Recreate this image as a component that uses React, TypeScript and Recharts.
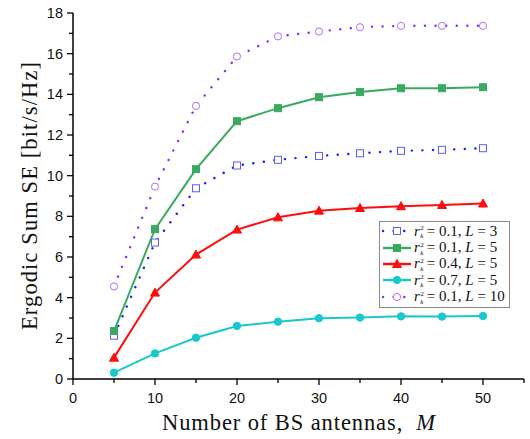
import React from "react";
import { LineChart, Line, XAxis, YAxis, Legend } from "recharts";

const antennas = [5, 10, 15, 20, 25, 30, 35, 40, 45, 50];
const seL3r01 = [2.13, 6.71, 9.38, 10.5, 10.78, 10.97, 11.1, 11.22, 11.27, 11.35];
const seL5r01 = [2.36, 7.37, 10.32, 12.68, 13.32, 13.86, 14.11, 14.3, 14.3, 14.35];
const seL5r04 = [1.05, 4.25, 6.12, 7.35, 7.95, 8.28, 8.41, 8.5, 8.56, 8.63];
const seL5r07 = [0.31, 1.26, 2.03, 2.61, 2.82, 2.99, 3.02, 3.08, 3.07, 3.1];
const seL10r01 = [4.55, 9.46, 13.43, 15.86, 16.85, 17.09, 17.3, 17.37, 17.37, 17.37];

const xTicks = [0, 5, 10, 15, 20, 25, 30, 35, 40, 45, 50, 55];
const yTicks = [0, 1, 2, 3, 4, 5, 6, 7, 8, 9, 10, 11, 12, 13, 14, 15, 16, 17, 18];

const data = antennas.map((m, i) => ({
  m,
  a: seL3r01[i],
  b: seL5r01[i],
  c: seL5r04[i],
  d: seL5r07[i],
  e: seL10r01[i],
}));

type SeriesDef = {
  key: string;
  r: string;
  L: string;
  color: string;
  markerColor: string;
  marker: "sqOpen" | "sq" | "tri" | "circ" | "circOpen";
  dotted: boolean;
};

const series: SeriesDef[] = [
  { key: "a", r: "0.1", L: "3", color: "#1a1aff", markerColor: "#5c5cff", marker: "sqOpen", dotted: true },
  { key: "b", r: "0.1", L: "5", color: "#3aaa60", markerColor: "#3aaa60", marker: "sq", dotted: false },
  { key: "c", r: "0.4", L: "5", color: "#ff0d0d", markerColor: "#ff0d0d", marker: "tri", dotted: false },
  { key: "d", r: "0.7", L: "5", color: "#19c8cc", markerColor: "#19c8cc", marker: "circ", dotted: false },
  { key: "e", r: "0.1", L: "10", color: "#8a2bff", markerColor: "#b070ff", marker: "circOpen", dotted: true },
];

const TICK_FONT = "'Liberation Sans', Arial, sans-serif";
const SERIF = "'Liberation Serif', 'DejaVu Serif', serif";

function Marker({ cx, cy, kind, color }: { cx: number; cy: number; kind: string; color: string }) {
  if (cx == null || cy == null || isNaN(cx) || isNaN(cy)) return null;
  switch (kind) {
    case "sqOpen":
      return <rect x={cx - 3.5} y={cy - 3.5} width={7} height={7} fill="#fff" stroke={color} strokeWidth={1} />;
    case "sq":
      return <rect x={cx - 3.5} y={cy - 3.5} width={7} height={7} fill={color} stroke={color} strokeWidth={1} />;
    case "tri":
      return (
        <polygon
          points={`${cx},${cy - 4.5} ${cx - 4.5},${cy + 3.5} ${cx + 4.5},${cy + 3.5}`}
          fill={color}
          stroke={color}
          strokeWidth={1}
        />
      );
    case "circ":
      return <circle cx={cx} cy={cy} r={3.7} fill={color} stroke={color} strokeWidth={1} />;
    case "circOpen":
      return <circle cx={cx} cy={cy} r={3.6} fill="#fff" stroke={color} strokeWidth={1} />;
  }
  return null;
}

const BottomTick = (props: any) => {
  const { x, y, payload } = props;
  const v = payload.value;
  const major = v % 10 === 0;
  return (
    <g>
      <line x1={x} x2={x} y1={y} y2={y + (major ? 6 : 4)} stroke="#000" strokeWidth={1.3} />
      {major && (
        <text x={x} y={y + 24} textAnchor="middle" fontFamily={TICK_FONT} fontSize={14.5} fill="#111">
          {v}
        </text>
      )}
    </g>
  );
};

const TopTick = (props: any) => {
  const { x, y, payload } = props;
  const v = payload.value;
  const major = v % 10 === 0;
  return <line x1={x} x2={x} y1={y} y2={y + (major ? 6 : 4)} stroke="#000" strokeWidth={1.3} />;
};

const LeftTick = (props: any) => {
  const { x, y, payload } = props;
  const v = payload.value;
  const major = v % 2 === 0;
  return (
    <g>
      <line x1={x} x2={x - (major ? 6 : 4)} y1={y} y2={y} stroke="#000" strokeWidth={1.3} />
      {major && (
        <text x={x - 10} y={y + 5} textAnchor="end" fontFamily={TICK_FONT} fontSize={14.5} fill="#111">
          {v}
        </text>
      )}
    </g>
  );
};

const RightTick = (props: any) => {
  const { x, y, payload } = props;
  const v = payload.value;
  const major = v % 2 === 0;
  return <line x1={x} x2={x + (major ? 5 : 3)} y1={y} y2={y} stroke="#000" strokeWidth={1.3} />;
};

const XTitle = (props: any) => {
  const vb = props.viewBox;
  return (
    <text
      x={vb.x + vb.width / 2}
      y={vb.y + 51}
      textAnchor="middle"
      fontFamily={SERIF}
      fontSize={22.5}
      fill="#111"
      textLength={273}
      lengthAdjust="spacing"
    >
      Number of BS antennas,{"\u00A0\u00A0"}
      <tspan fontStyle="italic">M</tspan>
    </text>
  );
};

const YTitle = (props: any) => {
  const vb = props.viewBox;
  const cx = 37;
  const cy = vb.y + vb.height / 2;
  return (
    <text
      x={cx}
      y={cy}
      transform={`rotate(-90, ${cx}, ${cy})`}
      textAnchor="middle"
      fontFamily={SERIF}
      fontSize={22.5}
      fill="#111"
      textLength={268}
      lengthAdjust="spacing"
    >
      Ergodic Sum SE [bit/s/Hz]
    </text>
  );
};

const LegendContent = () => (
  <div
    style={{
      border: "1px solid #8a8a8a",
      background: "#fff",
      padding: "1px 4px 2px 2px",
      fontFamily: SERIF,
      fontSize: 15,
      color: "#111",
    }}
  >
    {series.map((s) => (
      <div key={s.key} style={{ display: "flex", alignItems: "center", height: 16.4, whiteSpace: "nowrap" }}>
        <svg width={30} height={14} style={{ marginRight: 2 }}>
          <line
            x1={1}
            x2={29}
            y1={7}
            y2={7}
            stroke={s.color}
            strokeWidth={2.4}
            strokeLinecap={s.dotted ? "round" : "butt"}
            strokeDasharray={s.dotted ? "0.1 10.5" : undefined}
          />
          <Marker cx={15} cy={7} kind={s.marker} color={s.markerColor} />
        </svg>
        <span style={{ fontStyle: "italic" }}>r</span>
        <span
          style={{
            display: "inline-flex",
            flexDirection: "column",
            fontSize: 7,
            lineHeight: "8px",
            marginRight: 3,
            marginLeft: 0.5,
            position: "relative",
            top: 1,
          }}
        >
          <span>2</span>
          <span style={{ fontStyle: "italic" }}>k</span>
        </span>
        <span>
          = {s.r}, <span style={{ fontStyle: "italic" }}>L</span> = {s.L}
        </span>
      </div>
    ))}
  </div>
);

export default function App() {
  return (
    <div style={{ position: "absolute", left: 0, top: 0, width: 530, height: 439, background: "#fff" }}>
      <LineChart width={530} height={439} data={data} margin={{ top: 13, right: 6, bottom: 0, left: 33 }}>
        <XAxis
          dataKey="m"
          type="number"
          domain={[0, 55]}
          ticks={xTicks}
          interval={0}
          height={60}
          tickSize={0}
          tickMargin={0}
          tickLine={false}
          tick={<BottomTick />}
          axisLine={{ stroke: "#000", strokeWidth: 1.5 }}
          label={<XTitle />}
        />
        <XAxis
          xAxisId="top"
          orientation="top"
          dataKey="m"
          type="number"
          domain={[0, 55]}
          ticks={xTicks}
          interval={0}
          height={0}
          tickSize={0}
          tickMargin={0}
          tickLine={false}
          tick={<TopTick />}
          axisLine={{ stroke: "#000", strokeWidth: 1.5 }}
        />
        <YAxis
          type="number"
          domain={[0, 18]}
          ticks={yTicks}
          interval={0}
          width={40}
          tickSize={0}
          tickMargin={0}
          tickLine={false}
          tick={<LeftTick />}
          axisLine={{ stroke: "#000", strokeWidth: 1.5 }}
          label={<YTitle />}
        />
        <YAxis
          yAxisId="right"
          orientation="right"
          type="number"
          domain={[0, 18]}
          ticks={yTicks}
          interval={0}
          width={0}
          tickSize={0}
          tickMargin={0}
          tickLine={false}
          tick={<RightTick />}
          axisLine={{ stroke: "#000", strokeWidth: 1.5 }}
        />
        {series.map((s) => (
          <Line
            key={s.key}
            dataKey={s.key}
            type="linear"
            stroke={s.color}
            strokeWidth={s.dotted ? 2.4 : 2}
            strokeDasharray={s.dotted ? "0.1 10.5" : undefined}
            strokeLinecap={s.dotted ? "round" : "butt"}
            isAnimationActive={false}
            dot={(p: any) => <Marker key={`${s.key}-${p.index}`} cx={p.cx} cy={p.cy} kind={s.marker} color={s.markerColor} />}
            activeDot={false}
          />
        ))}
        <Legend
          layout="vertical"
          align="center"
          verticalAlign="middle"
          content={<LegendContent />}
          wrapperStyle={{ position: "absolute", left: 379, top: 221, width: "auto", height: "auto" }}
        />
      </LineChart>
    </div>
  );
}
